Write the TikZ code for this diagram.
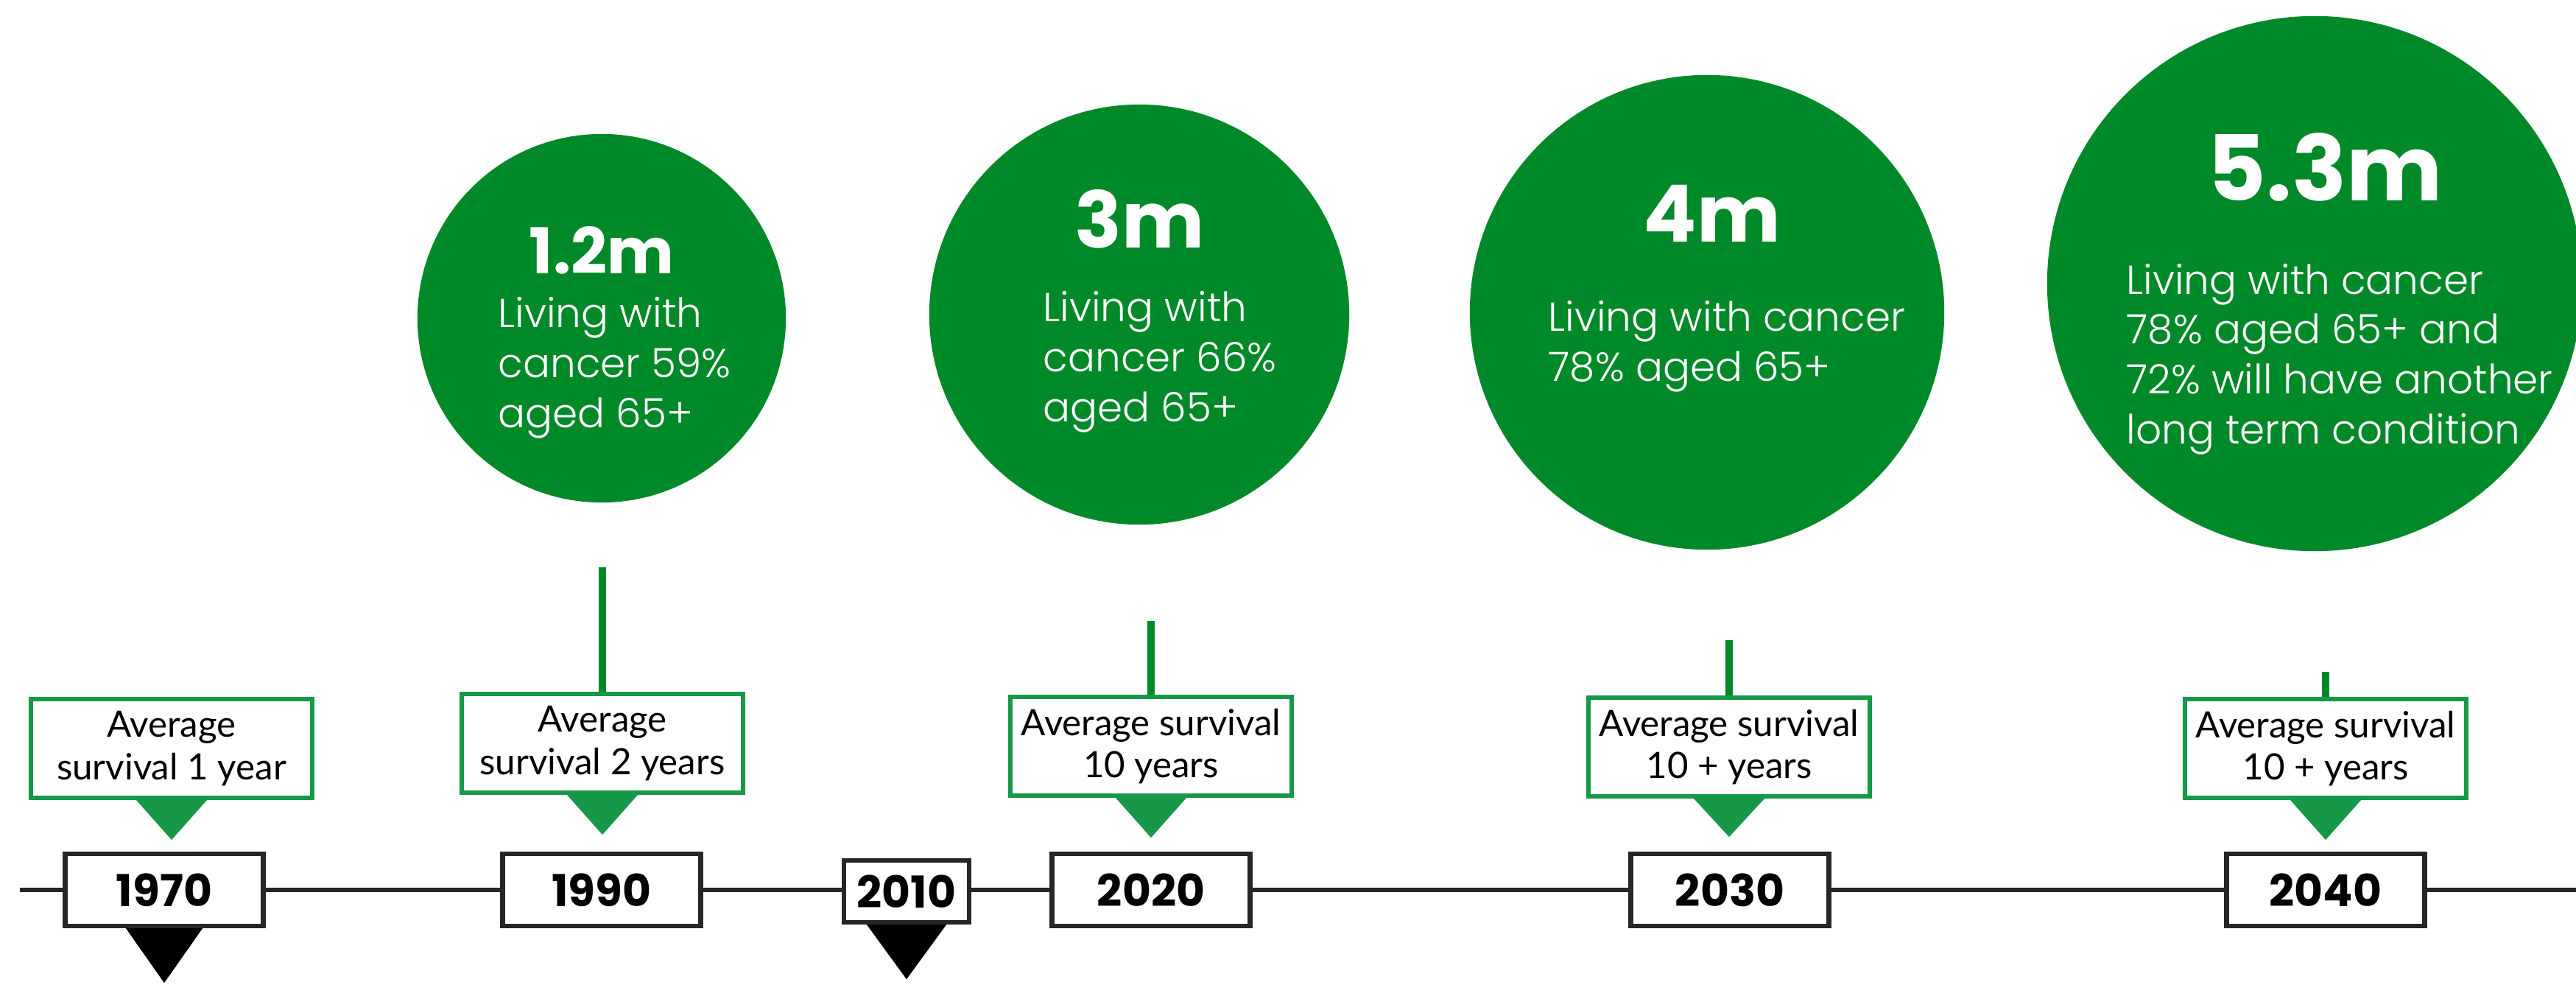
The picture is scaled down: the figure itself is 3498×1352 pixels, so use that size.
\documentclass[tikz,border=0pt]{standalone}
\usepackage{fontspec}
\setmainfont{Poppins}
\IfFontExistsTF{Poppins Light}{\newfontfamily\bodyfont{Poppins Light}}{\newfontfamily\bodyfont{Poppins}}
\newfontfamily\calloutfont{Lato}
\definecolor{circlegreen}{RGB}{0,137,40}
\definecolor{boxgreen}{RGB}{22,152,72}
\definecolor{yeargray}{RGB}{38,38,38}

\begin{document}
\begin{tikzpicture}[x=0.01cm,y=-0.01cm,
  bubble/.style={circle,fill=circlegreen,inner sep=0pt},
  bignum/.style={text=white,anchor=base,inner sep=0pt,font=\fontsize{#1}{#1}\selectfont\bfseries},
  bodytext/.style={text=white,anchor=base west,align=left,inner sep=0pt,font=\bodyfont\fontsize{15.6pt}{19.2pt}\selectfont},
  callout/.style={draw=boxgreen,line width=1.7pt,fill=white,minimum width=3.82cm,minimum height=1.34cm,
    inner sep=0pt,align=center,font=\calloutfont\fontsize{14pt}{16.4pt}\selectfont},
  yearbox/.style={draw=yeargray,line width=1.8pt,fill=white,minimum width=2.69cm,minimum height=0.98cm,
    inner sep=0pt,font=\fontsize{17pt}{17pt}\selectfont\bfseries},
  axis/.style={draw=yeargray,line width=1.7pt},
  stem/.style={draw=circlegreen,line width=2.8pt}]
  \useasboundingbox (0,0) rectangle (3498,1352);

  % circles
  \node[bubble,minimum size=5cm] (b1990) at (817,432) {};
  \node[bubble,minimum size=5.7cm] (b2020) at (1547,427) {};
  \node[bubble,minimum size=6.44cm] (b2030) at (2318,424) {};
  \node[bubble,minimum size=7.26cm] (b2040) at (3143,385) {};

  \node[bignum=24.4pt] (n1990) at (817,372) {1.2m};
  \node[bignum=30.1pt] (n2020) at (1548,337) {3m};
  \node[bignum=30.5pt] (n2030) at (2325,329) {4m};
  \node[bignum=35pt] (n2040) at (3157,273) {5.3m};

  % anchored at the baseline of the last line
  \node[bodytext] (t1990) at (676,580) {Living with\\cancer 59\%\\aged 65+};
  \node[bodytext] (t2020) at (1416,572) {Living with\\cancer 66\%\\aged 65+};
  \node[bodytext] (t2030) at (2102,517) {Living with cancer\\78\% aged 65+};
  \node[bodytext] (t2040) at (2887,602) {Living with cancer\\78\% aged 65+ and\\72\% will have another\\long term condition};

  % survival callouts
  \node[callout] (c1970) at (233,1016) {Average\\survival 1 year};
  \node[callout] (c1990) at (818,1009) {Average\\survival 2 years};
  \node[callout] (c2020) at (1563,1013) {Average survival\\10 years};
  \node[callout] (c2030) at (2348,1014) {Average survival\\10 + years};
  \node[callout] (c2040) at (3158,1016) {Average survival\\10 + years};

  \fill[boxgreen] ([xshift=-0.48cm]c1970.south) -- ([xshift=0.48cm]c1970.south) -- ([yshift=-0.54cm]c1970.south) -- cycle;
  \fill[boxgreen] ([xshift=-0.48cm]c1990.south) -- ([xshift=0.48cm]c1990.south) -- ([yshift=-0.54cm]c1990.south) -- cycle;
  \fill[boxgreen] ([xshift=-0.48cm]c2020.south) -- ([xshift=0.48cm]c2020.south) -- ([yshift=-0.54cm]c2020.south) -- cycle;
  \fill[boxgreen] ([xshift=-0.48cm]c2030.south) -- ([xshift=0.48cm]c2030.south) -- ([yshift=-0.52cm]c2030.south) -- cycle;
  \fill[boxgreen] ([xshift=-0.48cm]c2040.south) -- ([xshift=0.48cm]c2040.south) -- ([yshift=-0.54cm]c2040.south) -- cycle;

  \coordinate (s1990) at (818,770);
  \coordinate (s2020) at (1563,843);
  \coordinate (s2030) at (2348,869);
  \coordinate (s2040) at (3158,912);
  \draw[stem] (s1990) -- (c1990);
  \draw[stem] (s2020) -- (c2020);
  \draw[stem] (s2030) -- (c2030);
  \draw[stem] (s2040) -- (c2040);

  % timeline
  \node[yearbox] (y1970) at (223,1208) {1970};
  \node[yearbox] (y1990) at (817,1208) {1990};
  \node[yearbox,minimum width=1.70cm,minimum height=0.84cm] (y2010) at (1231,1210) {2010};
  \node[yearbox] (y2020) at (1563,1208) {2020};
  \node[yearbox] (y2030) at (2349,1208) {2030};
  \node[yearbox] (y2040) at (3158,1208) {2040};
  \coordinate (tlstart) at (27,1208);
  \coordinate (tlend) at (3498,1208);
  \draw[axis] (tlstart) -- (y1970.west);
  \draw[axis] (y1970.east) -- (y1990.west);
  \draw[axis] (y1990.east) -- (y2010.west |- y1990.east);
  \draw[axis] (y2010.east |- y2020.west) -- (y2020.west);
  \draw[axis] (y2020.east) -- (y2030.west);
  \draw[axis] (y2030.east) -- (y2040.west);
  \draw[axis] (y2040.east) -- (tlend);

  \fill[black] ([xshift=-0.52cm]y1970.south) -- ([xshift=0.52cm]y1970.south) -- ([yshift=-0.74cm]y1970.south) -- cycle;
  \fill[black] ([xshift=-0.54cm]y2010.south) -- ([xshift=0.54cm]y2010.south) -- ([yshift=-0.74cm]y2010.south) -- cycle;
\end{tikzpicture}
\end{document}
